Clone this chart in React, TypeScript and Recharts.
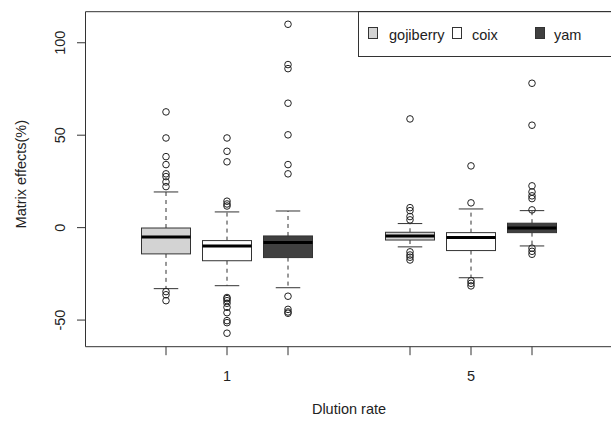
import React from 'react';
import { ComposedChart, Bar, Scatter, XAxis, YAxis, Legend, ReferenceLine } from 'recharts';

// ---- data ----
const slots = ['g1', 'c1', 'y1', 'gap', 'g5', 'c5', 'y5'];
const slotSeries = [0, 1, 2, -1, 0, 1, 2];
const tickLabels = ['', '1', '', '', '', '5', ''];
const seriesNames = ['gojiberry', 'coix', 'yam'];
const seriesFill = ['#d3d3d3', '#ffffff', '#404040'];

const whiskerLow: (number | null)[] = [-33.0, -31.4, -32.5, null, -10.4, -27.1, -9.9];
const q1: (number | null)[] = [-14.2, -17.9, -16.2, null, -6.7, -12.4, -2.7];
const median: (number | null)[] = [-5.0, -9.9, -8.1, null, -4.5, -5.4, -0.2];
const q3: (number | null)[] = [-0.2, -7.0, -4.5, null, -2.5, -2.7, 2.4];
const whiskerHigh: (number | null)[] = [19.3, 8.5, 9.0, null, 2.2, 10.1, 9.2];

const outliers: number[][] = [
  [62.6, 48.5, 38.4, 34.1, 29.1, 27.6, 24.7, 22.2, -34.6, -36.3, -39.5],
  [48.5, 41.3, 35.6, 14.3, 12.8, 11.7, -37.8, -38.4, -39.5, -40.9, -43.1, -46.0, -50.3, -51.4, -57.1],
  [110, 88.2, 86.0, 67.3, 50.2, 34.1, 29.1, -37.1, -44.2, -45.6, -46.3],
  [],
  [58.8, 10.8, 9.2, 6.0, 4.2, -13.1, -14.8, -16.0, -17.5],
  [33.4, 13.4, -28.7, -30.1, -31.5],
  [78.1, 55.4, 22.6, 19.3, 17.2, 15.7, 9.6, -11.1, -12.8, -14.4],
];

const yDomain: [number, number] = [-64.4, 116.8];
const yTicks = [-50, 0, 50, 100];

// ---- derived tables ----
const boxData = slots.map((s, i) => ({
  slot: s,
  lo: whiskerLow[i],
  q1: q1[i],
  med: median[i],
  q3: q3[i],
  hi: whiskerHigh[i],
  range: whiskerLow[i] == null ? null : [whiskerLow[i], whiskerHigh[i]],
  fill: slotSeries[i] >= 0 ? seriesFill[slotSeries[i]] : 'none',
}));

const outlierData = slots.flatMap((s, i) => outliers[i].map((v) => ({ slot: s, v })));

const FONT = '"Liberation Sans", Arial, Helvetica, sans-serif';
const FS = 14.5;
const LINE = '#333333';

const BoxShape = (props: any) => {
  const { x, y, width, height, payload } = props;
  if (!payload || payload.lo == null || !height) return null;
  const { lo, hi } = payload;
  const toY = (v: number) => y + ((hi - v) / (hi - lo)) * height;
  const cx = x + width / 2;
  const cap = width / 4;
  const yQ3 = toY(payload.q3);
  const yQ1 = toY(payload.q1);
  const yMed = toY(payload.med);
  const yHi = toY(hi);
  const yLo = toY(lo);
  return (
    <g>
      <line x1={cx} x2={cx} y1={yQ3} y2={yHi} stroke={LINE} strokeDasharray="4 4" />
      <line x1={cx} x2={cx} y1={yQ1} y2={yLo} stroke={LINE} strokeDasharray="4 4" />
      <line x1={cx - cap} x2={cx + cap} y1={yHi} y2={yHi} stroke={LINE} />
      <line x1={cx - cap} x2={cx + cap} y1={yLo} y2={yLo} stroke={LINE} />
      <rect x={x} y={yQ3} width={width} height={yQ1 - yQ3} fill={payload.fill} stroke={LINE} strokeWidth={1} />
      <line x1={x} x2={x + width} y1={yMed} y2={yMed} stroke="#000" strokeWidth={3} />
    </g>
  );
};

const OutlierShape = (props: any) => {
  const { cx, cy } = props;
  if (cx == null || cy == null) return null;
  return <circle cx={cx} cy={cy} r={3.3} fill="none" stroke="#222" strokeWidth={1} />;
};

const XTick = (props: any) => {
  const { x, y, payload } = props;
  const idx = slots.indexOf(payload.value);
  if (idx < 0 || slotSeries[idx] < 0) return null;
  return (
    <g>
      <line x1={x} x2={x} y1={y} y2={y + 8.5} stroke={LINE} />
      {tickLabels[idx] ? (
        <text x={x} y={y + 34} textAnchor="middle" fontSize={FS} fontFamily={FONT} fill="#222">
          {tickLabels[idx]}
        </text>
      ) : null}
    </g>
  );
};

const YTick = (props: any) => {
  const { x, y, payload } = props;
  return (
    <g>
      <line x1={x} x2={x - 8.5} y1={y} y2={y} stroke={LINE} />
      <text
        x={x - 25}
        y={y}
        transform={`rotate(-90 ${x - 25} ${y})`}
        textAnchor="middle"
        dy={5}
        fontSize={FS}
        fontFamily={FONT}
        fill="#222"
      >
        {payload.value}
      </text>
    </g>
  );
};

const YTitle = (props: any) => {
  const vb = props.viewBox || { x: 0, y: 11.7, width: 85.5, height: 335 };
  const tx = vb.x + 21.5;
  const ty = vb.y + vb.height / 2 - 5;
  return (
    <text x={tx} y={ty} transform={`rotate(-90 ${tx} ${ty})`} dy={5} textAnchor="middle" fontSize={FS} fontFamily={FONT} fill="#222">
      Matrix effects(%)
    </text>
  );
};

const XTitle = (props: any) => {
  const vb = props.viewBox || { x: 85.5, y: 346.7, width: 527, height: 50 };
  return (
    <text x={vb.x + vb.width / 2} y={vb.y + 67} textAnchor="middle" fontSize={FS} fontFamily={FONT} fill="#222">
      Dlution rate
    </text>
  );
};

const LegendBox = () => {
  const sq = [10, 94, 177];
  const tx = [31, 114, 196];
  return (
    <svg width={253} height={46} style={{ display: 'block' }}>
      <line x1={0.5} x2={0.5} y1={0} y2={46} stroke={LINE} />
      <line x1={0} x2={253} y1={0.5} y2={0.5} stroke={LINE} />
      <line x1={0} x2={253} y1={45.5} y2={45.5} stroke={LINE} />
      {seriesNames.map((n, i) => (
        <g key={n}>
          <rect x={sq[i] + 0.5} y={16.5} width={9} height={11} fill={seriesFill[i]} stroke={LINE} />
          <text x={tx[i]} y={28.5} fontSize={FS} fontFamily={FONT} fill="#222">
            {n}
          </text>
        </g>
      ))}
    </svg>
  );
};

export default function App() {
  return (
    <div style={{ position: 'absolute', left: 0, top: 0, width: 611, height: 421, background: '#fff' }}>
      <ComposedChart
        width={611}
        height={421}
        data={boxData}
        margin={{ top: 11.7, right: -1.5, bottom: 24.3, left: 0 }}
      >
        <XAxis
          dataKey="slot"
          type="category"
          allowDuplicatedCategory={false}
          height={50}
          padding={{ left: 50, right: 50 }}
          interval={0}
          tickLine={false}
          tickSize={0}
          tickMargin={0}
          tick={<XTick />}
          axisLine={{ stroke: LINE }}
          label={<XTitle />}
        />
        <YAxis
          type="number"
          domain={yDomain}
          allowDataOverflow
          ticks={yTicks}
          width={85.5}
          tickLine={false}
          tickSize={0}
          tickMargin={0}
          tick={<YTick />}
          axisLine={{ stroke: LINE }}
          label={<YTitle />}
        />
        <ReferenceLine y={yDomain[1]} stroke={LINE} ifOverflow="extendDomain" />
        <Bar dataKey="range" barSize={49} shape={<BoxShape />} isAnimationActive={false} />
        <Scatter data={outlierData} dataKey="v" shape={<OutlierShape />} isAnimationActive={false} />
        <Legend
          verticalAlign="middle"
          align="center"
          layout="horizontal"
          content={<LegendBox />}
          wrapperStyle={{ left: 358, top: 11.2, width: 253, height: 46 }}
        />
      </ComposedChart>
    </div>
  );
}
